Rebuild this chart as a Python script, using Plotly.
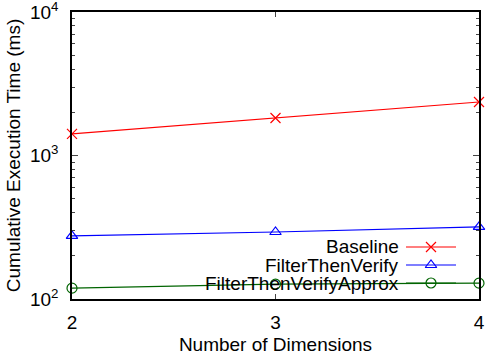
import plotly.graph_objects as go

dims = [2, 3, 4]
baseline = [1413, 1825, 2360]
ftv = [275, 293, 318]
ftva = [119, 127, 129]

names = ["Baseline", "FilterThenVerify", "FilterThenVerifyApprox"]
colors = ["#ff0000", "#0000ff", "#006400"]
symbols = ["x-thin-open", "triangle-up-open", "circle-open"]
series = [baseline, ftv, ftva]

ytickvals = [100, 1000, 10000]
yticktext = ["10<sup>2</sup>", "10<sup>3</sup>", "10<sup>4</sup>"]

FS = 19

fig = go.Figure()
for n, c, s, v in zip(names, colors, symbols, series):
    fig.add_trace(go.Scatter(
        x=dims, y=v, mode="lines+markers", name=n,
        line=dict(color=c, width=1.2),
        marker=dict(symbol=s, size=10, color=c, line=dict(color=c, width=1.2)),
        showlegend=False, cliponaxis=False))

# custom legend (text left of sample, as in gnuplot)
W, H = 486, 362
ml, mr, mt, mb = 72, 7, 12, 63
pw, ph = W - ml - mr, H - mt - mb
def px(x):
    return (x - ml) / pw
def py(y):
    return (H - mb - y) / ph

rows_y = [247, 265, 283]
for n, c, s, yy in zip(names, colors, symbols, rows_y):
    fig.add_annotation(x=px(401), y=py(yy), xref="paper", yref="paper",
                       text=n, showarrow=False, xanchor="right", yanchor="middle",
                       font=dict(size=FS, color="#000000"))
    fig.add_shape(type="line", xref="paper", yref="paper",
                  x0=px(406), x1=px(456), y0=py(yy), y1=py(yy),
                  line=dict(color=c, width=1.2))
    fig.add_trace(go.Scatter(
        x=[px(431)], y=[py(yy)], xaxis="x2", yaxis="y2", mode="markers",
        marker=dict(symbol=s, size=10, color=c, line=dict(color=c, width=1.2)),
        showlegend=False, hoverinfo="skip", cliponaxis=False))

fig.update_layout(
    width=W, height=H,
    margin=dict(l=ml, r=mr, t=mt, b=mb, autoexpand=False),
    paper_bgcolor="white", plot_bgcolor="white",
    font=dict(family="Liberation Sans, Arial, sans-serif", size=FS, color="#000000"),
    showlegend=False,
    xaxis=dict(range=[2, 4], tickvals=dims, ticks="inside", ticklen=5,
               showgrid=False, zeroline=False, showline=True, linecolor="black",
               linewidth=1.5, mirror="ticks", ticklabelstandoff=5, automargin=False,
               title=dict(text="Number of Dimensions", font=dict(size=FS), standoff=6),
               tickfont=dict(size=FS)),
    yaxis=dict(type="log", range=[2, 4], tickvals=ytickvals, ticktext=yticktext,
               ticks="inside", ticklen=6, showgrid=False, zeroline=False,
               showline=True, linecolor="black", linewidth=1.5, mirror="ticks",
               ticklabelstandoff=8, ticklabeloverflow="allow", automargin=False,
               minor=dict(ticks="inside", ticklen=3, showgrid=False,
                          tickvals=[v * k for v in [100, 1000] for k in range(2, 10)]),
               title=dict(text="Cumulative Execution Time (ms)", font=dict(size=FS), standoff=4),
               tickfont=dict(size=FS)),
    xaxis2=dict(range=[0, 1], overlaying="x", visible=False, domain=[0, 1]),
    yaxis2=dict(range=[0, 1], overlaying="y", visible=False),
)

fig.write_html("out.html")
